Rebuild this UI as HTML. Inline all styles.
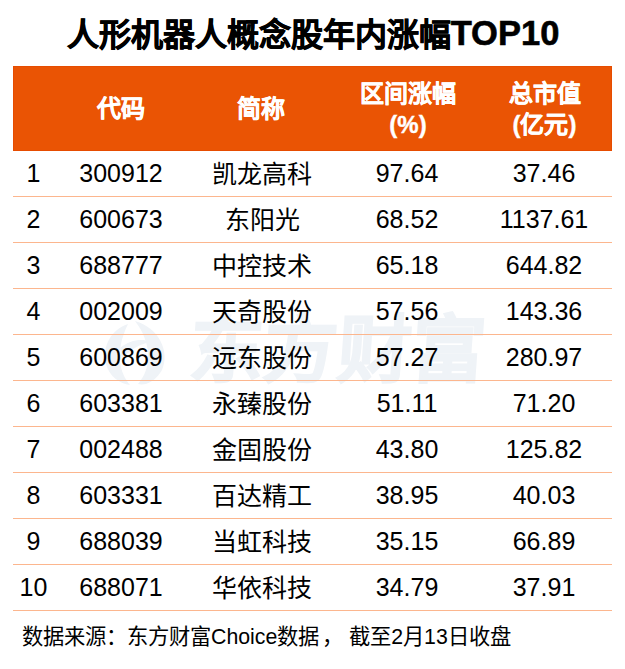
<!DOCTYPE html>
<html lang="zh-CN"><head><meta charset="utf-8">
<style>
html,body{margin:0;padding:0;background:#fff;}
body{width:625px;height:669px;position:relative;overflow:hidden;font-family:"Liberation Sans",sans-serif;color:#000;}
#title{position:absolute;white-space:nowrap;left:0.5px;width:625px;top:12px;text-align:center;font-size:32px;font-weight:bold;line-height:42px;letter-spacing:0px;-webkit-text-stroke:0.6px #000;}
#hdr{position:absolute;left:13px;top:66px;width:599px;height:85px;background:#EA5404;box-shadow:inset 0 0 0 1px #E64C00;}
.h{position:absolute;color:#fff;font-weight:bold;font-size:24px;text-align:center;line-height:31px;white-space:nowrap;width:160px;-webkit-text-stroke:0.4px #fff;}
.line{position:absolute;left:13px;width:599px;height:1px;background:#FCB68E;}
.c{position:absolute;font-size:25px;line-height:46px;text-align:center;white-space:nowrap;width:160px;}
.c2{font-size:25px;margin-top:1px;}
#wm{position:absolute;left:190px;top:314px;font-size:74px;line-height:1;font-weight:bold;color:#EFF3F7;white-space:nowrap;transform:skewX(-4deg);letter-spacing:0px;-webkit-text-stroke:1.5px #EFF3F7;}
#logo{position:absolute;left:100px;top:318px;}
#foot{position:absolute;left:22px;top:622px;font-size:21.3px;line-height:30px;white-space:nowrap;}
</style></head><body>
<svg id="logo" width="70" height="70" viewBox="0 0 70 70"><g fill="#EFF3F7"><path d="M35 3 C60 10 70 35 62 52 C55 64 45 68 38 66 C52 50 52 25 35 3 Z"/><path d="M28 6 C10 12 2 30 6 46 C9 58 20 66 30 67 C20 55 14 35 28 6 Z"/><path d="M20 30 C30 22 42 20 50 24 C40 26 30 32 22 40 Z"/></g></svg>
<div id="wm">东方财富</div>
<div id="title"><span style="position:relative;top:1.3px">人形机器人概念股年内涨幅</span><span style="font-size:34.5px">TOP10</span></div>
<div id="hdr"></div>
<div class="h" style="left:40.5px;top:93px;">代码</div>
<div class="h" style="left:181px;top:93px;">简称</div>
<div class="h" style="left:328px;top:78px;">区间涨幅<br>(%)</div>
<div class="h" style="left:464.5px;top:78px;">总市值<br>(亿元)</div>
<div class="c c0" style="left:-46.5px;top:150px;">1</div>
<div class="c c1" style="left:41px;top:150px;">300912</div>
<div class="c c2" style="left:182px;top:150px;">凯龙高科</div>
<div class="c c3" style="left:327px;top:150px;">97.64</div>
<div class="c c4" style="left:464px;top:150px;">37.46</div>
<div class="line" style="top:196px"></div>
<div class="c c0" style="left:-46.5px;top:196px;">2</div>
<div class="c c1" style="left:41px;top:196px;">600673</div>
<div class="c c2" style="left:182px;top:196px;">东阳光</div>
<div class="c c3" style="left:327px;top:196px;">68.52</div>
<div class="c c4" style="left:464px;top:196px;">1137.61</div>
<div class="line" style="top:242px"></div>
<div class="c c0" style="left:-46.5px;top:242px;">3</div>
<div class="c c1" style="left:41px;top:242px;">688777</div>
<div class="c c2" style="left:182px;top:242px;">中控技术</div>
<div class="c c3" style="left:327px;top:242px;">65.18</div>
<div class="c c4" style="left:464px;top:242px;">644.82</div>
<div class="line" style="top:288px"></div>
<div class="c c0" style="left:-46.5px;top:288px;">4</div>
<div class="c c1" style="left:41px;top:288px;">002009</div>
<div class="c c2" style="left:182px;top:288px;">天奇股份</div>
<div class="c c3" style="left:327px;top:288px;">57.56</div>
<div class="c c4" style="left:464px;top:288px;">143.36</div>
<div class="line" style="top:334px"></div>
<div class="c c0" style="left:-46.5px;top:334px;">5</div>
<div class="c c1" style="left:41px;top:334px;">600869</div>
<div class="c c2" style="left:182px;top:334px;">远东股份</div>
<div class="c c3" style="left:327px;top:334px;">57.27</div>
<div class="c c4" style="left:464px;top:334px;">280.97</div>
<div class="line" style="top:380px"></div>
<div class="c c0" style="left:-46.5px;top:380px;">6</div>
<div class="c c1" style="left:41px;top:380px;">603381</div>
<div class="c c2" style="left:182px;top:380px;">永臻股份</div>
<div class="c c3" style="left:327px;top:380px;">51.11</div>
<div class="c c4" style="left:464px;top:380px;">71.20</div>
<div class="line" style="top:426px"></div>
<div class="c c0" style="left:-46.5px;top:426px;">7</div>
<div class="c c1" style="left:41px;top:426px;">002488</div>
<div class="c c2" style="left:182px;top:426px;">金固股份</div>
<div class="c c3" style="left:327px;top:426px;">43.80</div>
<div class="c c4" style="left:464px;top:426px;">125.82</div>
<div class="line" style="top:472px"></div>
<div class="c c0" style="left:-46.5px;top:472px;">8</div>
<div class="c c1" style="left:41px;top:472px;">603331</div>
<div class="c c2" style="left:182px;top:472px;">百达精工</div>
<div class="c c3" style="left:327px;top:472px;">38.95</div>
<div class="c c4" style="left:464px;top:472px;">40.03</div>
<div class="line" style="top:518px"></div>
<div class="c c0" style="left:-46.5px;top:518px;">9</div>
<div class="c c1" style="left:41px;top:518px;">688039</div>
<div class="c c2" style="left:182px;top:518px;">当虹科技</div>
<div class="c c3" style="left:327px;top:518px;">35.15</div>
<div class="c c4" style="left:464px;top:518px;">66.89</div>
<div class="line" style="top:564px"></div>
<div class="c c0" style="left:-46.5px;top:564px;">10</div>
<div class="c c1" style="left:41px;top:564px;">688071</div>
<div class="c c2" style="left:182px;top:564px;">华依科技</div>
<div class="c c3" style="left:327px;top:564px;">34.79</div>
<div class="c c4" style="left:464px;top:564px;">37.91</div>
<div class="line" style="top:610px"></div>
<div id="foot">数据来源：东方财富Choice数据<span style="position:relative;left:3px">， 截至2月13日收盘</span></div>
</body></html>
